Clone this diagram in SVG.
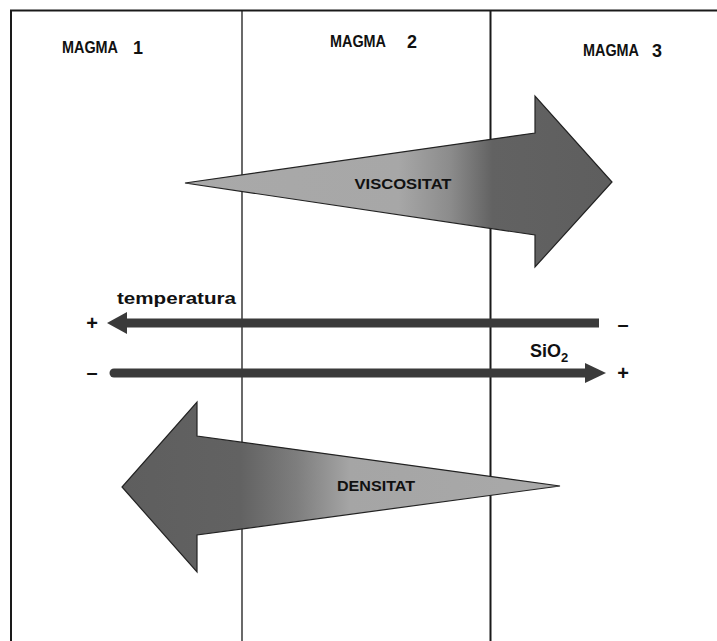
<svg xmlns="http://www.w3.org/2000/svg" width="717" height="641" viewBox="0 0 717 641">
  <style>
    .frame { stroke: #1a1a1a; fill: none; }
    .big { stroke: #222; stroke-width: 1.2; stroke-linejoin: miter; }
    .lbl { font-family: "Liberation Sans", Arial, sans-serif; font-weight: bold; fill: #111; }
    .bar { stroke: #3a3a3a; stroke-width: 9; fill: none; }
    .head { fill: #3a3a3a; }
  </style>
  <defs>
    <linearGradient id="gVisc" gradientUnits="userSpaceOnUse" x1="185" y1="0" x2="612" y2="0">
      <stop offset="0" stop-color="#a9a9a9"/>
      <stop offset="0.50" stop-color="#a7a7a7"/>
      <stop offset="0.62" stop-color="#8c8c8c"/>
      <stop offset="0.72" stop-color="#626262"/>
      <stop offset="1" stop-color="#5e5e5e"/>
    </linearGradient>
    <linearGradient id="gDens" gradientUnits="userSpaceOnUse" x1="122" y1="0" x2="560" y2="0">
      <stop offset="0" stop-color="#5e5e5e"/>
      <stop offset="0.27" stop-color="#626262"/>
      <stop offset="0.40" stop-color="#7e7e7e"/>
      <stop offset="0.52" stop-color="#a5a5a5"/>
      <stop offset="1" stop-color="#a9a9a9"/>
    </linearGradient>
  </defs>

  <g id="frame">
    <line class="frame" x1="10" y1="10.5" x2="717" y2="10.5" stroke-width="2"/>
    <line class="frame" x1="11" y1="10" x2="11" y2="641" stroke-width="2"/>
    <line class="frame" x1="242" y1="10" x2="242" y2="641" stroke-width="1.3"/>
    <line class="frame" x1="490.5" y1="10" x2="490.5" y2="641" stroke-width="2"/>
  </g>

  <g id="magma1">
    <text class="lbl" x="62" y="53" font-size="16" textLength="56" lengthAdjust="spacingAndGlyphs">MAGMA</text>
    <text class="lbl" x="133" y="54" font-size="19" font-weight="normal" textLength="10" lengthAdjust="spacingAndGlyphs">1</text>
  </g>
  <g id="magma2">
    <text class="lbl" x="330" y="47" font-size="16" textLength="56" lengthAdjust="spacingAndGlyphs">MAGMA</text>
    <text class="lbl" x="407" y="48" font-size="19" font-weight="normal" textLength="10" lengthAdjust="spacingAndGlyphs">2</text>
  </g>
  <g id="magma3">
    <text class="lbl" x="583" y="56" font-size="16" textLength="56" lengthAdjust="spacingAndGlyphs">MAGMA</text>
    <text class="lbl" x="652" y="57" font-size="19" font-weight="normal" textLength="10" lengthAdjust="spacingAndGlyphs">3</text>
  </g>

  <g id="viscositat">
    <polygon class="big" fill="url(#gVisc)" points="185,183 535,133 535,96 612,182 535,267 535,235"/>
    <text class="lbl" x="403" y="189" font-size="15" text-anchor="middle" textLength="97" lengthAdjust="spacingAndGlyphs">VISCOSITAT</text>
  </g>

  <g id="densitat">
    <polygon class="big" fill="url(#gDens)" points="560,486 197,535 197,572 122,487 197,402 197,436"/>
    <text class="lbl" x="376" y="491" font-size="15" text-anchor="middle" textLength="78" lengthAdjust="spacingAndGlyphs">DENSITAT</text>
  </g>

  <g id="connectors">
    <g id="temperatura">
      <line class="bar" x1="599" y1="323" x2="122" y2="323"/>
      <polygon class="head" points="107,323 127,312 127,334"/>
    </g>
    <g id="sio2">
      <line class="bar" x1="114" y1="373" x2="588" y2="373" stroke-linecap="round"/>
      <polygon class="head" points="606,373 585,363 585,383"/>
    </g>
  </g>

  <g id="temperatura-labels">
    <text class="lbl" x="117" y="304" font-size="17" textLength="119" lengthAdjust="spacingAndGlyphs">temperatura</text>
    <text class="lbl" x="92" y="330" font-size="20" text-anchor="middle">+</text>
    <text class="lbl" x="623" y="331" font-size="20" text-anchor="middle">–</text>
  </g>
  <g id="sio2-labels">
    <text class="lbl" x="530" y="357" font-size="18">SiO<tspan font-size="13" dy="5">2</tspan></text>
    <text class="lbl" x="92" y="379" font-size="20" text-anchor="middle">–</text>
    <text class="lbl" x="623" y="380" font-size="20" text-anchor="middle">+</text>
  </g>
</svg>
